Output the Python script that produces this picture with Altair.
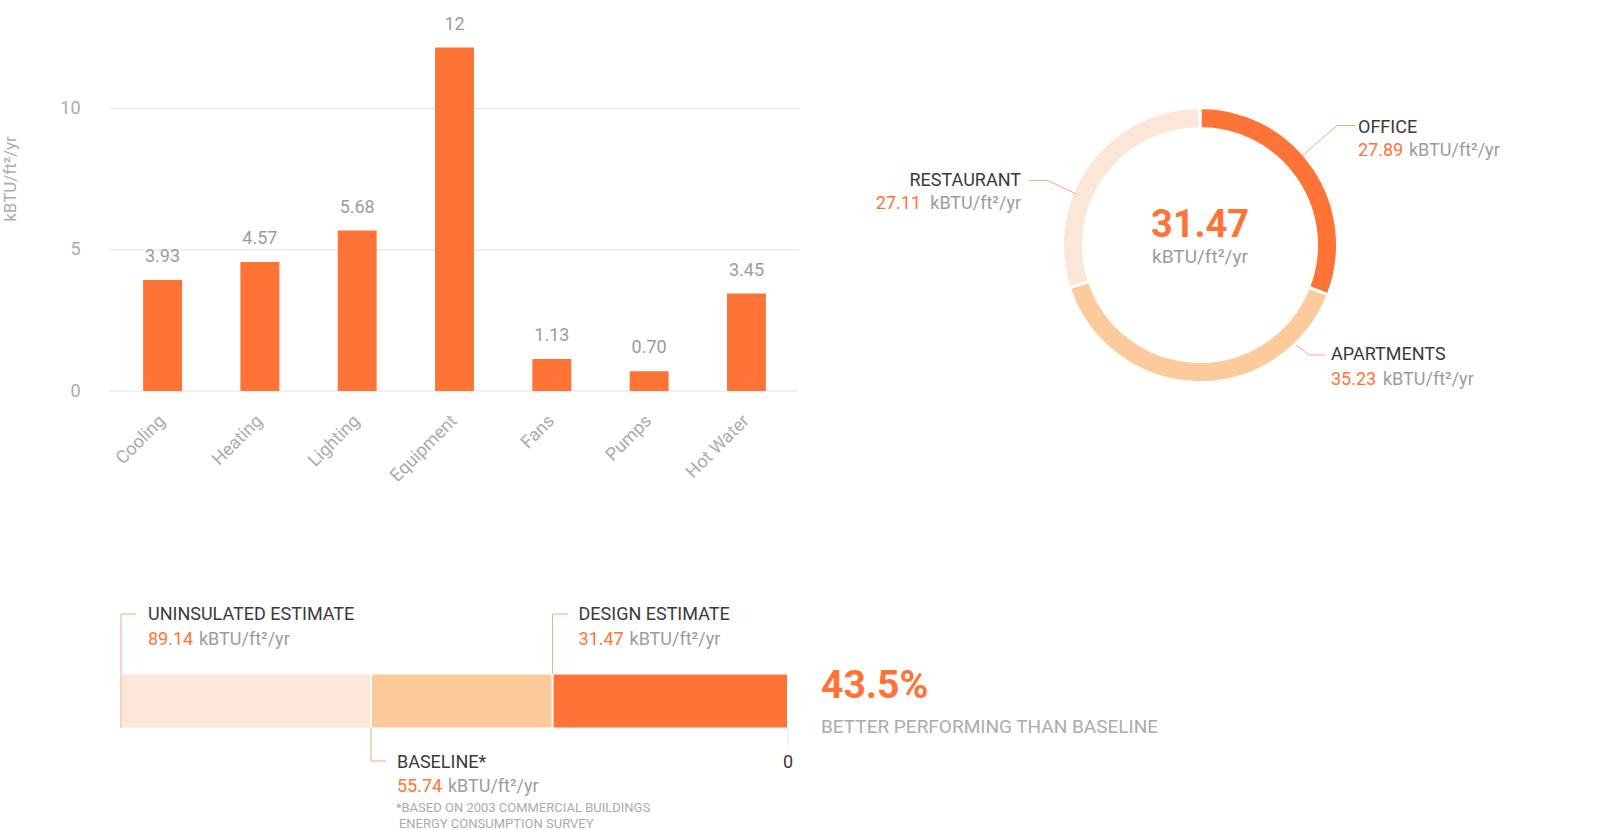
import altair as alt
import pandas as pd

# ---------------- data ----------------
categories = ["Cooling", "Heating", "Lighting", "Equipment", "Fans", "Pumps", "Hot Water"]
values = [3.93, 4.57, 5.68, 12.16, 1.13, 0.70, 3.45]
value_labels = ["3.93", "4.57", "5.68", "12", "1.13", "0.70", "3.45"]
y_ticks = [0, 5, 10]

mix_names = ["OFFICE", "APARTMENTS", "RESTAURANT"]
mix_values = [27.89, 35.23, 27.11]
mix_colors = ["#FF7336", "#FDCB9B", "#FCE6D8"]
eui_total = "31.47"
unit = "kBTU/ft²/yr"

cmp_names = ["UNINSULATED ESTIMATE", "BASELINE*", "DESIGN ESTIMATE"]
cmp_values = [89.14, 55.74, 31.47]
cmp_colors = ["#FCE6D8", "#FDCB9B", "#FF7336"]
improvement = "43.5%"
improvement_text = "BETTER PERFORMING THAN BASELINE"
footnote = ["*BASED ON 2003 COMMERCIAL BUILDINGS", " ENERGY CONSUMPTION SURVEY"]

ORANGE = "#FF7336"
DARK = "#3a3a3a"
GRAY = "#9c9c9c"
LIGHT = "#ababab"
GRID = "#e2e2e2"
LEAD = "#F6A882"
FONT = "Roboto"
FS = 18


def txt(s, x, y, size=FS, color=DARK, align="left", weight="normal", angle=0):
    return alt.Chart(pd.DataFrame({"t": [s]})).mark_text(
        align=align, baseline="middle", fontSize=size, color=color,
        fontWeight=weight, font=FONT, angle=angle
    ).encode(x=alt.value(x), y=alt.value(y), text="t:N")


def seg(x1, y1, x2, y2, color=LEAD):
    return alt.Chart(pd.DataFrame({"a": [0]})).mark_rule(color=color, strokeWidth=1).encode(
        x=alt.value(x1), y=alt.value(y1), x2=alt.value(x2), y2=alt.value(y2))


# ---------------- bar chart ----------------
bars_df = pd.DataFrame({"cat": categories, "val": values, "lab": value_labels})
grid_df = pd.DataFrame({"val": y_ticks})

x_axis = alt.Axis(title=None, offset=-439, labelAngle=315, labelAlign="right",
                  labelBaseline="middle", labelPadding=27, labelFontSize=FS,
                  labelColor=LIGHT, labelFont=FONT, domain=False, ticks=False, grid=False)
y_axis = alt.Axis(title=None, offset=-110, values=y_ticks, labelPadding=30,
                  labelFontSize=FS, labelColor=LIGHT, labelFont=FONT,
                  domain=False, ticks=False, grid=False)
x_sc = alt.Scale(range=[110, 799], paddingInner=0.6, paddingOuter=0.34)
y_sc = alt.Scale(domain=[0, 12.5], range=[391, 38], nice=False)

X = alt.X("cat:N", sort=categories, scale=x_sc, axis=x_axis)
Y = alt.Y("val:Q", scale=y_sc, axis=y_axis)

grid = alt.Chart(grid_df).mark_rule(color=GRID, strokeWidth=1).encode(
    y=Y, x=alt.value(110), x2=alt.value(799))
bars = alt.Chart(bars_df).mark_bar(color=ORANGE).encode(x=X, y=Y)
bar_labels = alt.Chart(bars_df).mark_text(
    baseline="alphabetic", dy=-18, fontSize=FS, color=GRAY, font=FONT
).encode(x=X, y=Y, text="lab:N")
bar_group = alt.layer(grid, bars, bar_labels)

# ---------------- donut ----------------
donut_df = pd.DataFrame({"name": mix_names, "val": mix_values, "col": mix_colors,
                         "ord": list(range(len(mix_names)))})
donut = alt.Chart(donut_df).mark_arc(
    innerRadius=116.5, outerRadius=137.5, stroke="white", strokeWidth=3
).encode(
    theta=alt.Theta("val:Q", stack=True),
    order=alt.Order("ord:Q"),
    color=alt.Color("col:N", scale=None),
    x=alt.value(1200), y=alt.value(245),
)

# ---------------- comparison bar ----------------
cmp_df = pd.DataFrame({"name": cmp_names, "val": cmp_values, "col": cmp_colors,
                       "ord": list(range(len(cmp_names)))})
cx_sc = alt.Scale(domain=[0, cmp_values[0]], range=[788, 121], nice=False, zero=True)
cmp_rects = alt.Chart(cmp_df).mark_rect(stroke="white", strokeWidth=2).encode(
    x=alt.X("val:Q", scale=cx_sc, axis=None),
    x2=alt.datum(0),
    y=alt.value(673.5), y2=alt.value(728.5),
    color=alt.Color("col:N", scale=None),
    order=alt.Order("ord:Q"),
)


def vline(v, y1, y2, color=LEAD):
    return alt.Chart(pd.DataFrame({"a": [0]})).mark_rule(color=color, strokeWidth=1).encode(
        x=alt.X(datum=v, scale=cx_sc, axis=None), y=alt.value(y1), y2=alt.value(y2))


def hline(v, y):
    return alt.Chart(pd.DataFrame({"a": [0]})).mark_rule(color=LEAD, strokeWidth=1).encode(
        x=alt.X(datum=v, scale=cx_sc, axis=None), x2=alt.datum(v - 2.0), y=alt.value(y))


def ctxt(s, v, y, dx, size=FS, color=DARK, align="left"):
    return alt.Chart(pd.DataFrame({"t": [s]})).mark_text(
        align=align, baseline="middle", fontSize=size, color=color, font=FONT, dx=dx
    ).encode(x=alt.X(datum=v, scale=cx_sc, axis=None), y=alt.value(y), text="t:N")


u_v, b_v, d_v = cmp_values
cmp_group = alt.layer(
    cmp_rects,
    vline(u_v, 614, 728), hline(u_v, 614),
    vline(d_v, 614, 674), hline(d_v, 614),
    vline(b_v, 728, 761), hline(b_v, 761),
    vline(0, 728, 746, color="#f4e0d6"),
    ctxt(cmp_names[0], u_v, 615, 27),
    ctxt(f"{u_v:.2f}", u_v, 640, 27, color=ORANGE),
    ctxt(unit, u_v, 640, 78, color=GRAY),
    ctxt(cmp_names[2], d_v, 615, 26),
    ctxt(f"{d_v:.2f}", d_v, 640, 26, color=ORANGE),
    ctxt(unit, d_v, 640, 77, color=GRAY),
    ctxt(cmp_names[1], b_v, 763, 26),
    ctxt(f"{b_v:.2f}", b_v, 787, 26, color=ORANGE),
    ctxt(unit, b_v, 787, 77, color=GRAY),
    ctxt(footnote[0], b_v, 808, 25, size=13, color=LIGHT),
    ctxt(footnote[1], b_v, 824, 28, size=13, color=LIGHT),
    ctxt("0", 0, 763, 0, color=DARK, align="center"),
)

# ---------------- annotations ----------------
o_v, a_v, r_v = mix_values
annotations = [
    txt(unit, 11, 179, size=17, color=LIGHT, align="center", angle=270),
    # donut centre
    txt(eui_total, 1200, 226, size=38, color=ORANGE, align="center", weight="bold"),
    txt(unit, 1200, 257, size=19, color=GRAY, align="center"),
    # office
    seg(1303, 155, 1337, 125.5), seg(1337, 125.5, 1355, 125.5),
    txt(mix_names[0], 1358, 127.5),
    txt(f"{o_v:.2f}", 1358, 151, color=ORANGE),
    txt(unit, 1409, 151, color=GRAY),
    # restaurant
    seg(1076, 194, 1048, 180.6), seg(1048, 180.6, 1029, 180.6),
    txt(mix_names[2], 1021, 180.6, align="right"),
    txt(f"{r_v:.2f}", 921, 204, color=ORANGE, align="right"),
    txt(unit, 1021, 204, color=GRAY, align="right"),
    # apartments
    seg(1296, 345, 1309, 355), seg(1309, 355, 1325, 355),
    txt(mix_names[1], 1331, 355),
    txt(f"{a_v:.2f}", 1331, 379.6, color=ORANGE),
    txt(unit, 1383, 379.6, color=GRAY),
    # improvement
    txt(improvement, 821, 686, size=39, color=ORANGE, weight="bold"),
    txt(improvement_text, 821, 726.5, size=19, color=LIGHT),
]

chart = alt.layer(bar_group, donut, cmp_group, *annotations).resolve_scale(
    x="independent", y="independent"
).properties(
    width=1600, height=830, padding=0, autosize=alt.AutoSizeParams(type="none"),
    background="white"
).configure_view(stroke=None)

chart.save("out.html", embed_options={"renderer": "svg", "actions": False})
